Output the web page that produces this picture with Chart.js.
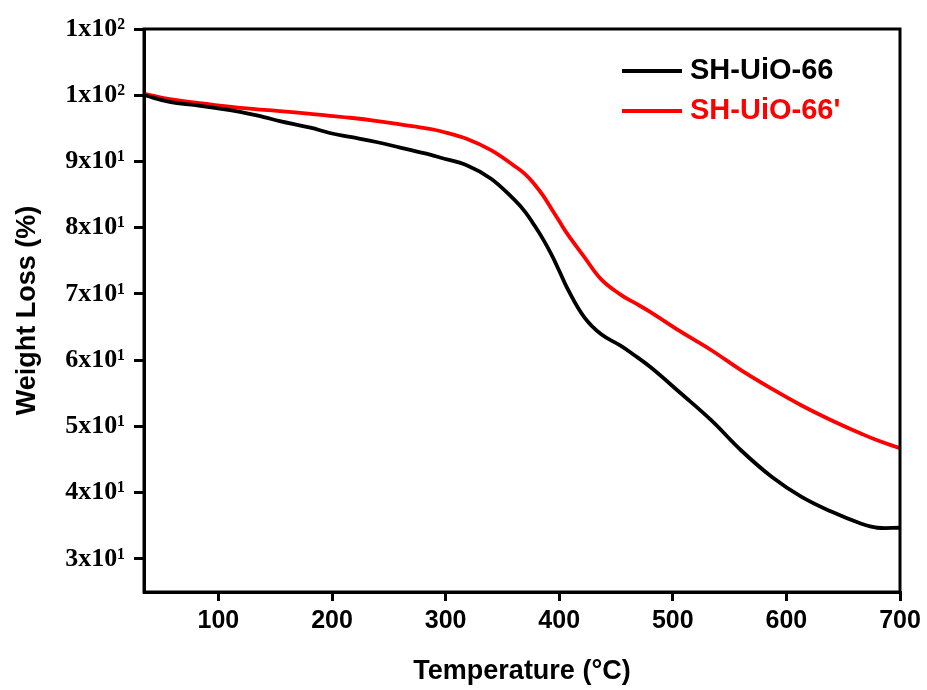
<!DOCTYPE html>
<html>
<head>
<meta charset="utf-8">
<script src="https://cdn.jsdelivr.net/npm/chart.js@4/dist/chart.umd.min.js"></script>
<style>
  html, body { margin: 0; padding: 0; background: #ffffff; }
  #wrap { width: 927px; height: 690px; }
</style>
</head>
<body>
<div id="wrap"><canvas id="c" width="927" height="690"></canvas></div>
<script>
// ---- data ----
const temperatures = [35, 57, 80, 97, 119, 140, 154, 181, 198, 216, 240, 260, 287, 295, 319, 340, 360, 370, 378, 386, 393, 400, 407, 422, 437, 454, 465, 480, 507, 534, 560, 587, 613, 640, 666, 680, 700];
const shUiO66 = [100.0, 99.0, 98.5, 98.1, 97.5, 96.7, 96.1, 95.1, 94.3, 93.7, 92.9, 92.1, 91.0, 90.6, 89.4, 87.4, 84.3, 82.4, 80.4, 78.2, 76.0, 73.5, 70.9, 66.5, 63.9, 62.2, 60.9, 59.0, 55.0, 50.9, 46.4, 42.4, 39.4, 37.1, 35.3, 34.7, 34.7];
const shUiO66p = [100.2, 99.4, 98.9, 98.5, 98.1, 97.8, 97.6, 97.2, 96.9, 96.6, 96.1, 95.6, 94.9, 94.6, 93.4, 91.7, 89.4, 88.1, 86.6, 84.8, 82.9, 81.0, 79.1, 75.6, 72.2, 69.9, 68.8, 67.3, 64.3, 61.5, 58.5, 55.7, 53.2, 50.9, 48.9, 47.9, 46.7];
const seriesLabels = ['SH-UiO-66', "SH-UiO-66'"];
const seriesColors = ['#000000', '#ff0000'];
const xTickValues = [100, 200, 300, 400, 500, 600, 700];
const yTickValues = [30, 40, 50, 60, 70, 80, 90, 100, 110];
const yTickLabels = ['3x10\u00B9', '4x10\u00B9', '5x10\u00B9', '6x10\u00B9', '7x10\u00B9', '8x10\u00B9', '9x10\u00B9', '1x10\u00B2', '1x10\u00B2'];

const toPoints = (vals) => temperatures.map((t, i) => ({ x: t, y: vals[i] }));

const framePlugin = {
  id: 'frame',
  afterDraw(chart) {
    const { ctx, chartArea: a } = chart;
    ctx.save();
    ctx.strokeStyle = '#000';
    ctx.lineWidth = 3;
    ctx.strokeRect(a.left, a.top, a.right - a.left, a.bottom - a.top);
    // legend inside plot
    const items = chart.data.datasets;
    ctx.font = 'bold 29px "Liberation Sans", Arial, sans-serif';
    ctx.textBaseline = 'middle';
    ctx.textAlign = 'left';
    items.forEach((ds, i) => {
      const y = a.top + 42 + i * 40;
      ctx.strokeStyle = ds.borderColor;
      ctx.lineWidth = 4;
      ctx.beginPath();
      ctx.moveTo(622, y);
      ctx.lineTo(682, y);
      ctx.stroke();
      ctx.fillStyle = ds.borderColor;
      ctx.fillText(ds.label, 690, y);
    });
    ctx.restore();
  }
};

new Chart(document.getElementById('c'), {
  type: 'line',
  data: {
    datasets: [
      { label: seriesLabels[0], data: toPoints(shUiO66), borderColor: seriesColors[0], backgroundColor: seriesColors[0], borderWidth: 3.8, pointRadius: 0, tension: 0.4, fill: false },
      { label: seriesLabels[1], data: toPoints(shUiO66p), borderColor: seriesColors[1], backgroundColor: seriesColors[1], borderWidth: 3.8, pointRadius: 0, tension: 0.4, fill: false }
    ]
  },
  options: {
    responsive: false,
    animation: false,
    layout: { padding: { left: 0, right: 27, top: 29, bottom: 0 } },
    plugins: { legend: { display: false }, tooltip: { enabled: false } },
    scales: {
      x: {
        type: 'linear',
        min: 34.5,
        max: 700,
        afterBuildTicks: (s) => { s.ticks = xTickValues.map(v => ({ value: v })); },
        afterFit: (s) => { s.height = 98; },
        border: { display: true, color: '#000', width: 3 },
        grid: { drawOnChartArea: false, drawTicks: true, tickLength: 9, color: '#000', lineWidth: 3 },
        ticks: {
          color: '#000', padding: 5, maxRotation: 0, autoSkip: false,
          font: { family: '"Liberation Sans", Arial, sans-serif', weight: 'bold', size: 25 },
          callback: (v) => String(v)
        },
        title: {
          display: true, text: 'Temperature (\u00B0C)', color: '#000',
          font: { family: '"Liberation Sans", Arial, sans-serif', weight: 'bold', size: 27 },
          padding: { top: 0, bottom: 2 }
        }
      },
      y: {
        type: 'linear',
        min: 25,
        max: 110,
        afterBuildTicks: (s) => { s.ticks = yTickValues.map(v => ({ value: v })); },
        afterFit: (s) => { s.width = 144; },
        border: { display: true, color: '#000', width: 3 },
        grid: { drawOnChartArea: false, drawTicks: true, tickLength: 10, color: '#000', lineWidth: 3 },
        ticks: {
          color: '#000', padding: 9, autoSkip: false,
          font: { family: '"Liberation Serif", "Times New Roman", serif', weight: 'bold', size: 26 },
          callback: (v) => { const i = yTickValues.indexOf(v); return i >= 0 ? yTickLabels[i] : ''; }
        },
        title: {
          display: true, text: 'Weight Loss (%)', color: '#000',
          font: { family: '"Liberation Sans", Arial, sans-serif', weight: 'bold', size: 27 },
          padding: { top: 11, bottom: 0 }
        }
      }
    }
  },
  plugins: [framePlugin]
});
</script>
</body>
</html>
